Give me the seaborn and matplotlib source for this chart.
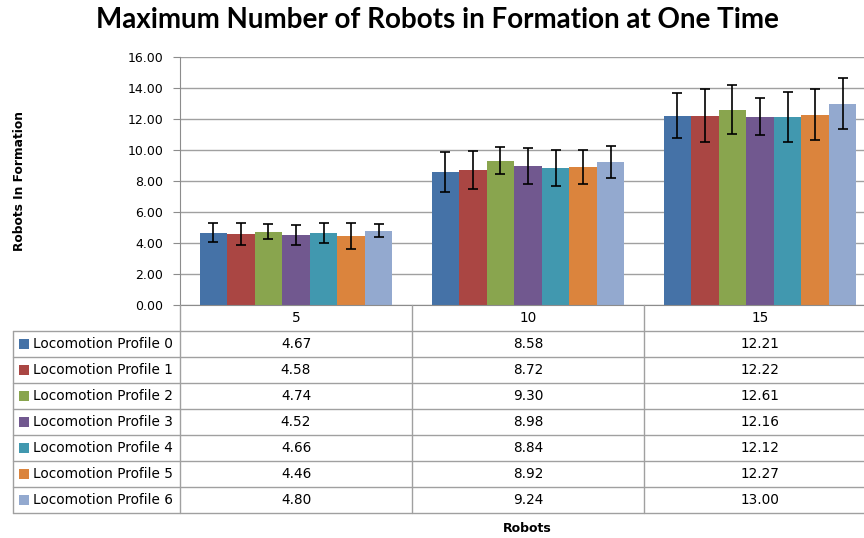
import matplotlib
matplotlib.use("Agg")
import matplotlib.pyplot as plt
import seaborn as sns
import numpy as np
import pandas as pd

# ---------------------------------------------
# DATA
# ---------------------------------------------
robots = ["5", "10", "15"]
profiles = ["Locomotion Profile %d" % i for i in range(7)]

means = [
    [4.67, 8.58, 12.21],
    [4.58, 8.72, 12.22],
    [4.74, 9.30, 12.61],
    [4.52, 8.98, 12.16],
    [4.66, 8.84, 12.12],
    [4.46, 8.92, 12.27],
    [4.80, 9.24, 13.00],
]
errors = [
    [0.62, 1.27, 1.46],
    [0.70, 1.22, 1.72],
    [0.48, 0.87, 1.56],
    [0.66, 1.18, 1.18],
    [0.64, 1.14, 1.60],
    [0.85, 1.10, 1.64],
    [0.44, 1.05, 1.66],
]
colors = ["#4572A7", "#AA4643", "#89A54E", "#71588F", "#4198AF", "#DB843D", "#93A9CF"]

df = pd.DataFrame(
    [(r, p, means[i][j]) for i, p in enumerate(profiles) for j, r in enumerate(robots)],
    columns=["Robots", "Profile", "Value"],
)

# ---------------------------------------------
# FIGURE
# ---------------------------------------------
sns.set_style("white")
plt.rcParams["font.family"] = ["DejaVu Sans"]
plt.rcParams["text.color"] = "black"
plt.rcParams["ytick.color"] = "#8C8C8C"
plt.rcParams["ytick.labelcolor"] = "black"

W, H = 864, 538
fig = plt.figure(figsize=(W / 100, H / 100), dpi=100)

# plot area (chart is clipped on the right, like the source image)
x0, x1, ytop, ybot = 180, 876, 57, 305
ax = fig.add_axes([x0 / W, 1 - ybot / H, (x1 - x0) / W, (ybot - ytop) / H])

sns.barplot(data=df, x="Robots", y="Value", hue="Profile", order=robots,
            hue_order=profiles, palette=colors, saturation=1, width=0.83,
            errorbar=None, edgecolor="none", legend=False, ax=ax)

bar_groups = list(ax.containers)
for k, cont in enumerate(bar_groups):
    xs = [b.get_x() + b.get_width() / 2 for b in cont]
    ys = [b.get_height() for b in cont]
    ax.errorbar(xs, ys, yerr=errors[k], fmt="none", ecolor="black",
                elinewidth=1.2, capsize=3.5, capthick=1.2, zorder=5)

ax.set_ylim(0, 16)
ax.set_xlim(-0.5, 2.5)
ax.set_yticks(np.arange(0, 17, 2))
ax.set_yticklabels(["%.2f" % v for v in np.arange(0, 17, 2)], fontsize=9)
ax.set_xticks([])
ax.set_xlabel("")
ax.set_ylabel("")
ax.yaxis.grid(True, color="#A0A0A0", linewidth=1)
ax.set_axisbelow(True)
for s in ["top", "right"]:
    ax.spines[s].set_visible(False)
ax.spines["left"].set_color("#8C8C8C")
ax.spines["bottom"].set_color("#8C8C8C")
ax.tick_params(axis="y", length=5, left=True, pad=7)

# ---------------------------------------------
# DATA TABLE under the plot
# ---------------------------------------------
tab_bot = 513
tab = fig.add_axes([x0 / W, 1 - tab_bot / H, (x1 - x0) / W, (tab_bot - ybot) / H])
tab.set_xlim(-0.5, 2.5)
nrows = len(profiles) + 1
tab.set_ylim(nrows, 0)
tab.axis("off")

unit = (x1 - x0) / len(robots)          # px per category
left = -0.5 - (x0 - 13) / unit          # left edge of legend column
lc = "#A0A0A0"
fs = 9.8
for r in range(1, nrows + 1):
    tab.plot([left, 2.5], [r, r], color=lc, lw=1, clip_on=False)
tab.plot([left, left], [1, nrows], color=lc, lw=1, clip_on=False)
for xv in [-0.5, 0.5, 1.5]:
    tab.plot([xv, xv], [0, nrows], color=lc, lw=1, clip_on=False)

for j, r in enumerate(robots):
    tab.text(j, 0.5, r, ha="center", va="center", fontsize=fs)
for i, p in enumerate(profiles):
    yc = i + 1.5
    tab.scatter([left + 11 / unit], [yc], marker="s", s=46, color=colors[i],
                clip_on=False, linewidths=0)
    tab.text(left + 20 / unit, yc, p, ha="left", va="center", fontsize=fs)
    for j in range(len(robots)):
        tab.text(j, yc, "%.2f" % means[i][j], ha="center", va="center", fontsize=fs)

# ---------------------------------------------
# TITLES
# ---------------------------------------------
fig.text(437 / W, 1 - 20 / H, "Maximum Number of Robots in Formation at One Time",
         ha="center", va="center", fontsize=20, fontweight="bold", family="Lato")
fig.text(20 / W, 1 - 181 / H, "Robots In Formation", rotation=90, ha="center",
         va="center", fontsize=8.8, fontweight="bold")
fig.text(527 / W, 1 - 528 / H, "Robots", ha="center", va="center",
         fontsize=9, fontweight="bold")

plt.savefig("out.png", dpi=100)
